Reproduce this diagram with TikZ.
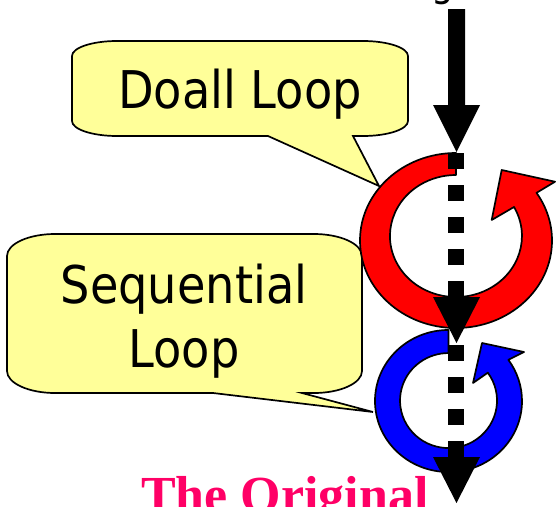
\documentclass[tikz,border=0pt]{standalone}
\usepackage{fontspec}
\setmainfont{Liberation Serif}
\newfontfamily\lblfont[FakeStretch=0.89]{DejaVu Sans}
\definecolor{calloutyellow}{RGB}{255,255,153}
\definecolor{titlepink}{RGB}{255,0,102}
\definecolor{ringred}{RGB}{255,0,0}
\definecolor{ringblue}{RGB}{0,0,255}
\tikzset{
  outline/.style={draw=black, line width=1.7pt, line join=round},
  calloutshape/.style={outline, fill=calloutyellow, line join=miter},
  labeltext/.style={font=\lblfont\fontsize{52}{62}\selectfont, inner sep=0pt, anchor=base},
  titletext/.style={font=\bfseries\fontsize{52}{62}\selectfont, text=titlepink, inner sep=0pt, anchor=base west},
  dotshaft/.style={line width=16pt, dash pattern=on 16pt off 16pt, line cap=butt},
}
\begin{document}
\begin{tikzpicture}[x=1pt,y=1pt]
\useasboundingbox (0,0) rectangle (556,-506);
\fill[white] (0,0) rectangle (556,-506);

% fragment of a letter cut by the top edge
\node[labeltext, text=black, font=\lblfont\fontsize{40}{48}\selectfont] (topg) at (443,3.5) {g};

% callout: Doall Loop (box 72..408 x 41..136, corner radii 45 x 15)
\coordinate (doalltip) at (379,-186);
\path[calloutshape]
  (268,-136) -- (117,-136)
  arc[start angle=270, end angle=180, x radius=45, y radius=15]
  -- (72,-56)
  arc[start angle=180, end angle=90, x radius=45, y radius=15]
  -- (363,-41)
  arc[start angle=90, end angle=0, x radius=45, y radius=15]
  -- (408,-121)
  arc[start angle=0, end angle=-90, x radius=45, y radius=15]
  -- (353,-136) -- (doalltip) -- cycle;
\node[labeltext] (doalltext) at (240,-108) {Doall Loop};

% callout: Sequential Loop (box 7..362 x 234..393, corner radii 48 x 22)
\coordinate (seqtip) at (373,-412);
\path[calloutshape]
  (213,-393) -- (55,-393)
  arc[start angle=270, end angle=180, x radius=48, y radius=22]
  -- (7,-256)
  arc[start angle=180, end angle=90, x radius=48, y radius=22]
  -- (314,-234)
  arc[start angle=90, end angle=0, x radius=48, y radius=22]
  -- (362,-371)
  arc[start angle=0, end angle=-90, x radius=48, y radius=22]
  -- (302,-393) -- (seqtip) -- cycle;
\node[labeltext] (seqtext1) at (184,-303) {Sequential};
\node[labeltext] (seqtext2) at (184,-367) {Loop};

% red loop ring
\path[outline, fill=ringred]
  (456,-153) arc[start angle=90, end angle=393, x radius=96, y radius=87.5]
  -- (555,-181.7) -- (501.7,-170) -- (491.7,-220) -- (514,-207)
  arc[start angle=388.4, end angle=90, x radius=66, y radius=61]
  -- cycle;

% blue loop ring
\path[outline, fill=ringblue]
  (448.5,-330) arc[start angle=90, end angle=395.5, x radius=73.5, y radius=71]
  -- (524,-352) -- (482,-343) -- (473,-383) -- (487.8,-372.7)
  arc[start angle=395.9, end angle=90, x radius=48.5, y radius=47.5]
  -- cycle;

% solid top arrow
\coordinate (topstart) at (456.5,-9);
\coordinate (tip1) at (456.5,-152);
\fill[black] (topstart) ++(-8.5,0) -- ++(17,0) -- (465,-105) -- (480,-105) -- (tip1) -- (433,-105) -- (448,-105) -- cycle;

% dotted arrow through the red loop
\coordinate (d1start) at (456,-153);
\coordinate (d1end) at (456,-297);
\coordinate (tip2) at (456.5,-343);
\draw[dotshaft] (d1start) -- (d1end);
\fill[black] (433,-297) -- (480,-297) -- (tip2) -- cycle;

% dotted arrow through the blue loop
\coordinate (d2start) at (456,-345);
\coordinate (d2end) at (456,-457);
\coordinate (tip3) at (456.5,-503);
\draw[dotshaft] (d2start) -- (d2end);
\fill[black] (433,-457) -- (480,-457) -- (tip3) -- cycle;

% title cut by the bottom edge
\node[titletext] (title) at (141,-512) {The Original};
\end{tikzpicture}
\end{document}
